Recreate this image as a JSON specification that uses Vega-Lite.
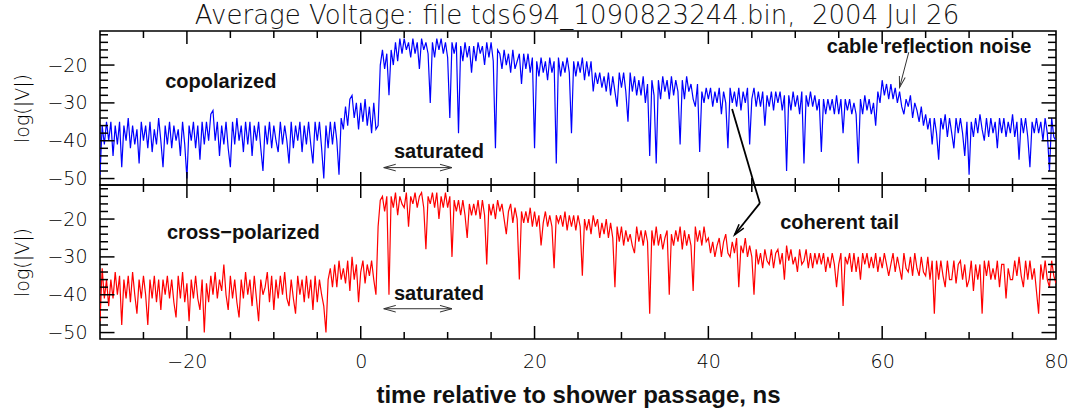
{
  "$schema": "https://vega.github.io/schema/vega-lite/v6.json",
  "background": "white",
  "padding": {"left": 13, "top": 3, "right": 16, "bottom": 2},
  "title": {
    "text": "Average Voltage: file tds694_1090823244.bin,\u00a0 2004 Jul 26",
    "font": "DejaVu Sans", "fontWeight": 200, "fontSize": 26, "color": "#111",
    "anchor": "middle", "offset": 1, "dx": 36
  },
  "spacing": 0,
  "bounds": "flush",
  "config": {
    "view": {"stroke": "black", "strokeWidth": 1.6},
    "axis": {
      "domain": false, "ticks": false, "tickSize": 0, "grid": false,
      "labelFont": "DejaVu Sans", "labelFontWeight": 200, "labelFontSize": 19, "labelColor": "#000",
      "titleFont": "DejaVu Sans", "titleFontWeight": 200, "titleFontSize": 19, "titleColor": "#000"
    },
    "text": {"font": "Liberation Sans", "fontWeight": "bold", "fontSize": 20, "color": "#111"},
    "tick": {"color": "black", "thickness": 1.5, "opacity": 1}
  },
  "datasets": {
    "xmaj": [
      {"t": -20, "v": -11}, {"t": 0, "v": -11}, {"t": 20, "v": -11}, {"t": 40, "v": -11}, {"t": 60, "v": -11},
      {"t": -20, "v": -51.7}, {"t": 0, "v": -51.7}, {"t": 20, "v": -51.7}, {"t": 40, "v": -51.7}, {"t": 60, "v": -51.7}
    ],
    "xmin": [
      {"t": -25, "v": -11}, {"t": -15, "v": -11}, {"t": -10, "v": -11}, {"t": -5, "v": -11},
      {"t": 5, "v": -11}, {"t": 10, "v": -11}, {"t": 15, "v": -11}, {"t": 25, "v": -11},
      {"t": 30, "v": -11}, {"t": 35, "v": -11}, {"t": 45, "v": -11}, {"t": 50, "v": -11},
      {"t": 55, "v": -11}, {"t": 65, "v": -11}, {"t": 70, "v": -11}, {"t": 75, "v": -11},
      {"t": -25, "v": -51.7}, {"t": -15, "v": -51.7}, {"t": -10, "v": -51.7}, {"t": -5, "v": -51.7},
      {"t": 5, "v": -51.7}, {"t": 10, "v": -51.7}, {"t": 15, "v": -51.7}, {"t": 25, "v": -51.7},
      {"t": 30, "v": -51.7}, {"t": 35, "v": -51.7}, {"t": 45, "v": -51.7}, {"t": 50, "v": -51.7},
      {"t": 55, "v": -51.7}, {"t": 65, "v": -51.7}, {"t": 70, "v": -51.7}, {"t": 75, "v": -51.7}
    ],
    "ymaj": [
      {"t": -30, "v": -50}, {"t": -30, "v": -40}, {"t": -30, "v": -30}, {"t": -30, "v": -20},
      {"t": 80, "v": -50}, {"t": 80, "v": -40}, {"t": 80, "v": -30}, {"t": 80, "v": -20}
    ],
    "ymin": [
      {"t": -30, "v": -48}, {"t": -30, "v": -46}, {"t": -30, "v": -44}, {"t": -30, "v": -42},
      {"t": -30, "v": -38}, {"t": -30, "v": -36}, {"t": -30, "v": -34}, {"t": -30, "v": -32},
      {"t": -30, "v": -28}, {"t": -30, "v": -26}, {"t": -30, "v": -24}, {"t": -30, "v": -22},
      {"t": -30, "v": -18}, {"t": -30, "v": -16}, {"t": -30, "v": -14}, {"t": -30, "v": -12},
      {"t": 80, "v": -48}, {"t": 80, "v": -46}, {"t": 80, "v": -44}, {"t": 80, "v": -42},
      {"t": 80, "v": -38}, {"t": 80, "v": -36}, {"t": 80, "v": -34}, {"t": 80, "v": -32},
      {"t": 80, "v": -28}, {"t": 80, "v": -26}, {"t": 80, "v": -24}, {"t": 80, "v": -22},
      {"t": 80, "v": -18}, {"t": 80, "v": -16}, {"t": 80, "v": -14}, {"t": 80, "v": -12}
    ],
    "sig": [
{"t":-30,"a":-49,"b":-47},{"t":-29.75,"a":-36,"b":-33},{"t":-29.5,"a":-41,"b":-41},{"t":-29.25,"a":-35,"b":-36},
{"t":-29,"a":-40,"b":-43},{"t":-28.75,"a":-35,"b":-36},{"t":-28.5,"a":-44,"b":-41},{"t":-28.25,"a":-36,"b":-34},
{"t":-28,"a":-41,"b":-40},{"t":-27.75,"a":-35,"b":-35},{"t":-27.5,"a":-47,"b":-48},{"t":-27.25,"a":-36,"b":-36},
{"t":-27,"a":-40,"b":-41},{"t":-26.75,"a":-34,"b":-35},{"t":-26.5,"a":-42,"b":-42},{"t":-26.25,"a":-36,"b":-34},
{"t":-26,"a":-41,"b":-40},{"t":-25.75,"a":-37,"b":-45},{"t":-25.5,"a":-46,"b":-36},{"t":-25.25,"a":-35,"b":-41},
{"t":-25,"a":-40,"b":-35},{"t":-24.75,"a":-36,"b":-40},{"t":-24.5,"a":-42,"b":-48},{"t":-24.25,"a":-35,"b":-36},
{"t":-24,"a":-43,"b":-41},{"t":-23.75,"a":-37,"b":-35},{"t":-23.5,"a":-41,"b":-42},{"t":-23.25,"a":-34,"b":-36},
{"t":-23,"a":-40,"b":-44},{"t":-22.75,"a":-47,"b":-36},{"t":-22.5,"a":-36,"b":-40},{"t":-22.25,"a":-41,"b":-35},
{"t":-22,"a":-35,"b":-41},{"t":-21.75,"a":-42,"b":-36},{"t":-21.5,"a":-36,"b":-42},{"t":-21.25,"a":-40,"b":-46},
{"t":-21,"a":-37,"b":-35},{"t":-20.75,"a":-44,"b":-41},{"t":-20.5,"a":-35,"b":-34},{"t":-20.25,"a":-41,"b":-42},
{"t":-20,"a":-50,"b":-37},{"t":-19.75,"a":-36,"b":-47},{"t":-19.5,"a":-40,"b":-36},{"t":-19.25,"a":-35,"b":-41},
{"t":-19,"a":-42,"b":-35},{"t":-18.75,"a":-36,"b":-41},{"t":-18.5,"a":-45,"b":-44},{"t":-18.25,"a":-35,"b":-36},
{"t":-18,"a":-41,"b":-50},{"t":-17.75,"a":-35,"b":-37},{"t":-17.5,"a":-40,"b":-42},{"t":-17.25,"a":-33,"b":-35},
{"t":-17,"a":-32,"b":-40},{"t":-16.75,"a":-40,"b":-34},{"t":-16.5,"a":-35,"b":-41},{"t":-16.25,"a":-44,"b":-36},
{"t":-16,"a":-36,"b":-39},{"t":-15.75,"a":-41,"b":-32},{"t":-15.5,"a":-35,"b":-40},{"t":-15.25,"a":-42,"b":-44},
{"t":-15,"a":-47,"b":-35},{"t":-14.75,"a":-35,"b":-41},{"t":-14.5,"a":-41,"b":-36},{"t":-14.25,"a":-34,"b":-42},
{"t":-14,"a":-40,"b":-46},{"t":-13.75,"a":-36,"b":-36},{"t":-13.5,"a":-43,"b":-41},{"t":-13.25,"a":-35,"b":-34},
{"t":-13,"a":-41,"b":-40},{"t":-12.75,"a":-35,"b":-36},{"t":-12.5,"a":-44,"b":-43},{"t":-12.25,"a":-36,"b":-35},
{"t":-12,"a":-40,"b":-41},{"t":-11.75,"a":-35,"b":-47},{"t":-11.5,"a":-42,"b":-36},{"t":-11.25,"a":-48,"b":-40},
{"t":-11,"a":-36,"b":-38},{"t":-10.75,"a":-41,"b":-34},{"t":-10.5,"a":-35,"b":-42},{"t":-10.25,"a":-42,"b":-35},
{"t":-10,"a":-36,"b":-44},{"t":-9.75,"a":-40,"b":-36},{"t":-9.5,"a":-43,"b":-41},{"t":-9.25,"a":-35,"b":-35},
{"t":-9,"a":-41,"b":-40},{"t":-8.75,"a":-36,"b":-34},{"t":-8.5,"a":-40,"b":-41},{"t":-8.25,"a":-46,"b":-43},
{"t":-8,"a":-35,"b":-36},{"t":-7.75,"a":-42,"b":-41},{"t":-7.5,"a":-36,"b":-45},{"t":-7.25,"a":-40,"b":-35},
{"t":-7,"a":-35,"b":-40},{"t":-6.75,"a":-43,"b":-36},{"t":-6.5,"a":-36,"b":-42},{"t":-6.25,"a":-41,"b":-35},
{"t":-6,"a":-35,"b":-41},{"t":-5.75,"a":-41,"b":-36},{"t":-5.5,"a":-46,"b":-44},{"t":-5.25,"a":-35,"b":-35},
{"t":-5,"a":-40,"b":-42},{"t":-4.75,"a":-35,"b":-36},{"t":-4.5,"a":-42,"b":-40},{"t":-4.25,"a":-50,"b":-43},
{"t":-4,"a":-36,"b":-50},{"t":-3.75,"a":-42,"b":-36},{"t":-3.5,"a":-35,"b":-33},{"t":-3.25,"a":-41,"b":-38},
{"t":-3,"a":-35,"b":-32},{"t":-2.75,"a":-40,"b":-38},{"t":-2.5,"a":-49,"b":-31},{"t":-2.25,"a":-34,"b":-36},
{"t":-2,"a":-37,"b":-33},{"t":-1.75,"a":-31,"b":-37},{"t":-1.5,"a":-36,"b":-31},{"t":-1.25,"a":-29,"b":-39},
{"t":-1,"a":-28,"b":-30},{"t":-0.75,"a":-34,"b":-36},{"t":-0.5,"a":-30,"b":-32},{"t":-0.25,"a":-37,"b":-42},
{"t":0,"a":-30,"b":-34},{"t":0.25,"a":-35,"b":-31},{"t":0.5,"a":-29,"b":-37},{"t":0.75,"a":-36,"b":-32},
{"t":1,"a":-31,"b":-35},{"t":1.25,"a":-38,"b":-31},{"t":1.5,"a":-30,"b":-36},{"t":1.75,"a":-37,"b":-40},
{"t":2,"a":-36,"b":-22},{"t":2.25,"a":-20,"b":-15},{"t":2.5,"a":-16,"b":-14},{"t":2.75,"a":-21,"b":-18},
{"t":3,"a":-17,"b":-14},{"t":3.25,"a":-28,"b":-40},{"t":3.5,"a":-16,"b":-14},{"t":3.75,"a":-20,"b":-17},
{"t":4,"a":-14,"b":-13},{"t":4.25,"a":-19,"b":-19},{"t":4.5,"a":-13,"b":-14},{"t":4.75,"a":-17,"b":-16},
{"t":5,"a":-13,"b":-17},{"t":5.25,"a":-16,"b":-13},{"t":5.5,"a":-14,"b":-22},{"t":5.75,"a":-18,"b":-14},
{"t":6,"a":-13,"b":-16},{"t":6.25,"a":-17,"b":-13},{"t":6.5,"a":-14,"b":-17},{"t":6.75,"a":-21,"b":-14},
{"t":7,"a":-13,"b":-13},{"t":7.25,"a":-16,"b":-17},{"t":7.5,"a":-14,"b":-28},{"t":7.75,"a":-17,"b":-14},
{"t":8,"a":-30,"b":-16},{"t":8.25,"a":-14,"b":-13},{"t":8.5,"a":-18,"b":-17},{"t":8.75,"a":-13,"b":-13},
{"t":9,"a":-16,"b":-20},{"t":9.25,"a":-13,"b":-14},{"t":9.5,"a":-17,"b":-17},{"t":9.75,"a":-14,"b":-13},
{"t":10,"a":-18,"b":-17},{"t":10.25,"a":-34,"b":-14},{"t":10.5,"a":-14,"b":-30},{"t":10.75,"a":-17,"b":-15},
{"t":11,"a":-14,"b":-18},{"t":11.25,"a":-38,"b":-15},{"t":11.5,"a":-15,"b":-19},{"t":11.75,"a":-19,"b":-15},
{"t":12,"a":-14,"b":-19},{"t":12.25,"a":-18,"b":-25},{"t":12.5,"a":-15,"b":-16},{"t":12.75,"a":-22,"b":-19},
{"t":13,"a":-15,"b":-16},{"t":13.25,"a":-19,"b":-19},{"t":13.5,"a":-14,"b":-15},{"t":13.75,"a":-17,"b":-20},
{"t":14,"a":-15,"b":-15},{"t":14.25,"a":-20,"b":-19},{"t":14.5,"a":-14,"b":-32},{"t":14.75,"a":-18,"b":-16},
{"t":15,"a":-14,"b":-19},{"t":15.25,"a":-19,"b":-16},{"t":15.5,"a":-42,"b":-20},{"t":15.75,"a":-16,"b":-15},
{"t":16,"a":-17,"b":-18},{"t":16.25,"a":-21,"b":-16},{"t":16.5,"a":-16,"b":-20},{"t":16.75,"a":-20,"b":-24},
{"t":17,"a":-17,"b":-18},{"t":17.25,"a":-22,"b":-16},{"t":17.5,"a":-16,"b":-21},{"t":17.75,"a":-21,"b":-17},
{"t":18,"a":-19,"b":-20},{"t":18.25,"a":-17,"b":-36},{"t":18.5,"a":-25,"b":-18},{"t":18.75,"a":-17,"b":-21},
{"t":19,"a":-21,"b":-18},{"t":19.25,"a":-17,"b":-21},{"t":19.5,"a":-22,"b":-17},{"t":19.75,"a":-18,"b":-22},
{"t":20,"a":-42,"b":-18},{"t":20.25,"a":-19,"b":-22},{"t":20.5,"a":-23,"b":-19},{"t":20.75,"a":-18,"b":-27},
{"t":21,"a":-22,"b":-21},{"t":21.25,"a":-19,"b":-18},{"t":21.5,"a":-24,"b":-22},{"t":21.75,"a":-18,"b":-19},
{"t":22,"a":-22,"b":-22},{"t":22.25,"a":-19,"b":-33},{"t":22.5,"a":-46,"b":-19},{"t":22.75,"a":-18,"b":-21},
{"t":23,"a":-23,"b":-19},{"t":23.25,"a":-19,"b":-22},{"t":23.5,"a":-22,"b":-18},{"t":23.75,"a":-18,"b":-23},
{"t":24,"a":-22,"b":-19},{"t":24.25,"a":-38,"b":-22},{"t":24.5,"a":-19,"b":-19},{"t":24.75,"a":-23,"b":-23},
{"t":25,"a":-19,"b":-19},{"t":25.25,"a":-22,"b":-22},{"t":25.5,"a":-18,"b":-35},{"t":25.75,"a":-24,"b":-20},
{"t":26,"a":-19,"b":-23},{"t":26.25,"a":-23,"b":-20},{"t":26.5,"a":-19,"b":-24},{"t":26.75,"a":-27,"b":-19},
{"t":27,"a":-22,"b":-22},{"t":27.25,"a":-25,"b":-20},{"t":27.5,"a":-22,"b":-25},{"t":27.75,"a":-26,"b":-21},
{"t":28,"a":-23,"b":-24},{"t":28.25,"a":-27,"b":-20},{"t":28.5,"a":-22,"b":-25},{"t":28.75,"a":-28,"b":-21},
{"t":29,"a":-23,"b":-25},{"t":29.25,"a":-27,"b":-38},{"t":29.5,"a":-31,"b":-22},{"t":29.75,"a":-22,"b":-26},
{"t":30,"a":-26,"b":-22},{"t":30.25,"a":-22,"b":-27},{"t":30.5,"a":-27,"b":-23},{"t":30.75,"a":-35,"b":-26},
{"t":31,"a":-22,"b":-24},{"t":31.25,"a":-27,"b":-27},{"t":31.5,"a":-23,"b":-29},{"t":31.75,"a":-28,"b":-22},
{"t":32,"a":-24,"b":-26},{"t":32.25,"a":-28,"b":-23},{"t":32.5,"a":-23,"b":-27},{"t":32.75,"a":-30,"b":-23},
{"t":33,"a":-25,"b":-26},{"t":33.25,"a":-44,"b":-45},{"t":33.5,"a":-24,"b":-23},{"t":33.75,"a":-28,"b":-27},
{"t":34,"a":-46,"b":-22},{"t":34.25,"a":-24,"b":-27},{"t":34.5,"a":-29,"b":-24},{"t":34.75,"a":-23,"b":-28},
{"t":35,"a":-27,"b":-25},{"t":35.25,"a":-24,"b":-23},{"t":35.5,"a":-29,"b":-40},{"t":35.75,"a":-23,"b":-24},
{"t":36,"a":-28,"b":-27},{"t":36.25,"a":-24,"b":-23},{"t":36.5,"a":-27,"b":-26},{"t":36.75,"a":-41,"b":-22},
{"t":37,"a":-24,"b":-28},{"t":37.25,"a":-29,"b":-23},{"t":37.5,"a":-23,"b":-27},{"t":37.75,"a":-27,"b":-24},
{"t":38,"a":-25,"b":-27},{"t":38.25,"a":-29,"b":-39},{"t":38.5,"a":-31,"b":-22},{"t":38.75,"a":-25,"b":-26},
{"t":39,"a":-43,"b":-23},{"t":39.25,"a":-27,"b":-27},{"t":39.5,"a":-30,"b":-22},{"t":39.75,"a":-26,"b":-26},
{"t":40,"a":-29,"b":-25},{"t":40.25,"a":-26,"b":-29},{"t":40.5,"a":-31,"b":-26},{"t":40.75,"a":-27,"b":-30},
{"t":41,"a":-30,"b":-27},{"t":41.25,"a":-26,"b":-25},{"t":41.5,"a":-33,"b":-30},{"t":41.75,"a":-27,"b":-26},
{"t":42,"a":-30,"b":-24},{"t":42.25,"a":-42,"b":-29},{"t":42.5,"a":-26,"b":-30},{"t":42.75,"a":-30,"b":-26},
{"t":43,"a":-27,"b":-29},{"t":43.25,"a":-31,"b":-25},{"t":43.5,"a":-26,"b":-38},{"t":43.75,"a":-32,"b":-27},
{"t":44,"a":-27,"b":-29},{"t":44.25,"a":-30,"b":-25},{"t":44.5,"a":-26,"b":-30},{"t":44.75,"a":-41,"b":-27},
{"t":45,"a":-29,"b":-30},{"t":45.25,"a":-26,"b":-40},{"t":45.5,"a":-31,"b":-28},{"t":45.75,"a":-27,"b":-32},
{"t":46,"a":-31,"b":-29},{"t":46.25,"a":-27,"b":-33},{"t":46.5,"a":-36,"b":-28},{"t":46.75,"a":-28,"b":-31},
{"t":47,"a":-31,"b":-32},{"t":47.25,"a":-27,"b":-28},{"t":47.5,"a":-32,"b":-33},{"t":47.75,"a":-27,"b":-29},
{"t":48,"a":-30,"b":-28},{"t":48.25,"a":-27,"b":-32},{"t":48.5,"a":-32,"b":-29},{"t":48.75,"a":-28,"b":-36},
{"t":49,"a":-48,"b":-27},{"t":49.25,"a":-28,"b":-31},{"t":49.5,"a":-32,"b":-28},{"t":49.75,"a":-27,"b":-32},
{"t":50,"a":-31,"b":-30},{"t":50.25,"a":-28,"b":-34},{"t":50.5,"a":-33,"b":-28},{"t":50.75,"a":-27,"b":-32},
{"t":51,"a":-46,"b":-31},{"t":51.25,"a":-28,"b":-28},{"t":51.5,"a":-31,"b":-33},{"t":51.75,"a":-27,"b":-29},
{"t":52,"a":-31,"b":-33},{"t":52.25,"a":-28,"b":-29},{"t":52.5,"a":-32,"b":-32},{"t":52.75,"a":-29,"b":-29},
{"t":53,"a":-43,"b":-32},{"t":53.25,"a":-29,"b":-29},{"t":53.5,"a":-33,"b":-34},{"t":53.75,"a":-29,"b":-30},
{"t":54,"a":-32,"b":-33},{"t":54.25,"a":-29,"b":-29},{"t":54.5,"a":-33,"b":-32},{"t":54.75,"a":-28,"b":-38},
{"t":55,"a":-33,"b":-32},{"t":55.25,"a":-29,"b":-29},{"t":55.5,"a":-38,"b":-43},{"t":55.75,"a":-29,"b":-30},
{"t":56,"a":-32,"b":-32},{"t":56.25,"a":-29,"b":-29},{"t":56.5,"a":-33,"b":-34},{"t":56.75,"a":-30,"b":-29},
{"t":57,"a":-33,"b":-34},{"t":57.25,"a":-46,"b":-30},{"t":57.5,"a":-29,"b":-36},{"t":57.75,"a":-33,"b":-29},
{"t":58,"a":-28,"b":-32},{"t":58.25,"a":-32,"b":-29},{"t":58.5,"a":-29,"b":-33},{"t":58.75,"a":-33,"b":-30},
{"t":59,"a":-30,"b":-33},{"t":59.25,"a":-36,"b":-29},{"t":59.5,"a":-27,"b":-34},{"t":59.75,"a":-30,"b":-30},
{"t":60,"a":-24,"b":-33},{"t":60.25,"a":-28,"b":-29},{"t":60.5,"a":-25,"b":-32},{"t":60.75,"a":-29,"b":-35},
{"t":61,"a":-25,"b":-32},{"t":61.25,"a":-29,"b":-29},{"t":61.5,"a":-26,"b":-34},{"t":61.75,"a":-30,"b":-30},
{"t":62,"a":-27,"b":-33},{"t":62.25,"a":-31,"b":-36},{"t":62.5,"a":-33,"b":-29},{"t":62.75,"a":-29,"b":-33},
{"t":63,"a":-31,"b":-34},{"t":63.25,"a":-28,"b":-30},{"t":63.5,"a":-34,"b":-35},{"t":63.75,"a":-30,"b":-29},
{"t":64,"a":-32,"b":-33},{"t":64.25,"a":-35,"b":-35},{"t":64.5,"a":-31,"b":-30},{"t":64.75,"a":-36,"b":-34},
{"t":65,"a":-33,"b":-35},{"t":65.25,"a":-37,"b":-30},{"t":65.5,"a":-34,"b":-36},{"t":65.75,"a":-41,"b":-31},
{"t":66,"a":-34,"b":-45},{"t":66.25,"a":-38,"b":-31},{"t":66.5,"a":-45,"b":-36},{"t":66.75,"a":-34,"b":-31},
{"t":67,"a":-37,"b":-35},{"t":67.25,"a":-33,"b":-38},{"t":67.5,"a":-39,"b":-31},{"t":67.75,"a":-34,"b":-36},
{"t":68,"a":-38,"b":-36},{"t":68.25,"a":-42,"b":-31},{"t":68.5,"a":-34,"b":-37},{"t":68.75,"a":-38,"b":-32},
{"t":69,"a":-34,"b":-31},{"t":69.25,"a":-38,"b":-36},{"t":69.5,"a":-44,"b":-32},{"t":69.75,"a":-35,"b":-38},
{"t":70,"a":-49,"b":-36},{"t":70.25,"a":-35,"b":-31},{"t":70.5,"a":-39,"b":-39},{"t":70.75,"a":-34,"b":-32},
{"t":71,"a":-38,"b":-36},{"t":71.25,"a":-33,"b":-32},{"t":71.5,"a":-37,"b":-45},{"t":71.75,"a":-40,"b":-31},
{"t":72,"a":-34,"b":-35},{"t":72.25,"a":-39,"b":-31},{"t":72.5,"a":-34,"b":-36},{"t":72.75,"a":-38,"b":-33},
{"t":73,"a":-35,"b":-36},{"t":73.25,"a":-42,"b":-31},{"t":73.5,"a":-34,"b":-38},{"t":73.75,"a":-38,"b":-32},
{"t":74,"a":-34,"b":-32},{"t":74.25,"a":-39,"b":-41},{"t":74.5,"a":-35,"b":-33},{"t":74.75,"a":-38,"b":-36},
{"t":75,"a":-33,"b":-36},{"t":75.25,"a":-39,"b":-31},{"t":75.5,"a":-35,"b":-35},{"t":75.75,"a":-45,"b":-30},
{"t":76,"a":-34,"b":-35},{"t":76.25,"a":-38,"b":-38},{"t":76.5,"a":-34,"b":-31},{"t":76.75,"a":-39,"b":-36},
{"t":77,"a":-47,"b":-31},{"t":77.25,"a":-35,"b":-36},{"t":77.5,"a":-38,"b":-33},{"t":77.75,"a":-34,"b":-39},
{"t":78,"a":-38,"b":-45},{"t":78.25,"a":-35,"b":-32},{"t":78.5,"a":-40,"b":-36},{"t":78.75,"a":-34,"b":-31},
{"t":79,"a":-38,"b":-36},{"t":79.25,"a":-48,"b":-38},{"t":79.5,"a":-34,"b":-31},{"t":79.75,"a":-39,"b":-35},
{"t":80,"a":-40,"b":-37}
    ]
  },
  "vconcat": [
    {
      "width": 956,
      "height": 154,
      "layer": [
        {
          "data": {"name": "sig"},
          "mark": {"type": "line", "color": "#0000ff", "strokeWidth": 1.2, "clip": true},
          "encoding": {
            "x": {
              "field": "t", "type": "quantitative",
              "scale": {"domain": [-30, 80], "nice": false, "zero": false},
              "axis": {"orient": "bottom", "title": null, "labels": false, "values": [-20, 0, 20, 40, 60]}
            },
            "y": {
              "field": "a", "type": "quantitative",
              "scale": {"domain": [-51.7, -11], "nice": false, "zero": false},
              "axis": {
                "orient": "left", "title": "log(|V|)", "titlePadding": 14,
                "values": [-50, -40, -30, -20], "labelPadding": 13
              }
            }
          }
        },
        {
          "data": {"name": "xmaj"},
          "mark": {"type": "tick", "orient": "vertical", "size": 26, "clip": true},
          "encoding": {
            "x": {"field": "t", "type": "quantitative", "axis": null},
            "y": {"field": "v", "type": "quantitative", "axis": null}
          }
        },
        {
          "data": {"name": "xmin"},
          "mark": {"type": "tick", "orient": "vertical", "size": 14, "clip": true},
          "encoding": {
            "x": {"field": "t", "type": "quantitative", "axis": null},
            "y": {"field": "v", "type": "quantitative", "axis": null}
          }
        },
        {
          "data": {"name": "ymaj"},
          "mark": {"type": "tick", "orient": "horizontal", "size": 29, "clip": true},
          "encoding": {
            "x": {"field": "t", "type": "quantitative", "axis": null},
            "y": {"field": "v", "type": "quantitative", "axis": null}
          }
        },
        {
          "data": {"name": "ymin"},
          "mark": {"type": "tick", "orient": "horizontal", "size": 16, "clip": true},
          "encoding": {
            "x": {"field": "t", "type": "quantitative", "axis": null},
            "y": {"field": "v", "type": "quantitative", "axis": null}
          }
        },
        {
          "data": {"values": [
            {"t": -16.1, "v": -24.6, "txt": "copolarized"},
            {"t": 9.0, "v": -43.0, "txt": "saturated"},
            {"t": 65.4, "v": -15.3, "txt": "cable reflection noise"}
          ]},
          "mark": {"type": "text", "align": "center", "baseline": "middle"},
          "encoding": {
            "x": {"field": "t", "type": "quantitative", "axis": null},
            "y": {"field": "v", "type": "quantitative", "axis": null},
            "text": {"field": "txt"}
          }
        },
        {
          "data": {"values": [{"t": 42.73, "v": -31.6, "t2": 45.3, "v2": -51.7}]},
          "mark": {"type": "rule", "color": "black", "strokeWidth": 1.8},
          "encoding": {
            "x": {"field": "t", "type": "quantitative", "axis": null},
            "y": {"field": "v", "type": "quantitative", "axis": null},
            "x2": {"field": "t2"}, "y2": {"field": "v2"}
          }
        },
        {
          "data": {"values": [
            {"t": 63.06, "v": -16.6, "t2": 62.0, "v2": -25.9},
            {"t": 2.65, "v": -47.1, "t2": 10.5, "v2": -47.1}
          ]},
          "mark": {"type": "rule", "color": "#333", "strokeWidth": 1},
          "encoding": {
            "x": {"field": "t", "type": "quantitative", "axis": null},
            "y": {"field": "v", "type": "quantitative", "axis": null},
            "x2": {"field": "t2"}, "y2": {"field": "v2"}
          }
        },
        {
          "data": {"values": [{"t": 2.65, "v": -47.1}]},
          "mark": {"type": "point", "shape": "M2,-0.55L0,0L2,0.55", "size": 144, "filled": false, "color": "#333", "strokeWidth": 1, "opacity": 1, "angle": 0},
          "encoding": {
            "x": {"field": "t", "type": "quantitative", "axis": null},
            "y": {"field": "v", "type": "quantitative", "axis": null}
          }
        },
        {
          "data": {"values": [{"t": 10.5, "v": -47.1}]},
          "mark": {"type": "point", "shape": "M2,-0.55L0,0L2,0.55", "size": 144, "filled": false, "color": "#333", "strokeWidth": 1, "opacity": 1, "angle": 180},
          "encoding": {
            "x": {"field": "t", "type": "quantitative", "axis": null},
            "y": {"field": "v", "type": "quantitative", "axis": null}
          }
        },
        {
          "data": {"values": [{"t": 62.0, "v": -25.9}]},
          "mark": {"type": "point", "shape": "M2,-0.55L0,0L2,0.55", "size": 120, "filled": false, "color": "#333", "strokeWidth": 1, "opacity": 1, "angle": -75.6},
          "encoding": {
            "x": {"field": "t", "type": "quantitative", "axis": null},
            "y": {"field": "v", "type": "quantitative", "axis": null}
          }
        }
      ],
      "resolve": {"axis": {"x": "independent", "y": "independent"}}
    },
    {
      "width": 956,
      "height": 154,
      "layer": [
        {
          "data": {"name": "sig"},
          "mark": {"type": "line", "color": "#ff0000", "strokeWidth": 1.2, "clip": true},
          "encoding": {
            "x": {
              "field": "t", "type": "quantitative",
              "scale": {"domain": [-30, 80], "nice": false, "zero": false},
              "axis": {
                "orient": "bottom", "title": "time relative to shower passage, ns",
                "titleFont": "Liberation Sans", "titleFontWeight": "bold", "titleFontSize": 24, "titleColor": "#111",
                "titlePadding": 12,
                "values": [-20, 0, 20, 40, 60, 80],
                "labelPadding": 13, "labelFlush": false
              }
            },
            "y": {
              "field": "b", "type": "quantitative",
              "scale": {"domain": [-51.7, -11], "nice": false, "zero": false},
              "axis": {
                "orient": "left", "title": "log(|V|)", "titlePadding": 14,
                "values": [-50, -40, -30, -20], "labelPadding": 13
              }
            }
          }
        },
        {
          "data": {"name": "xmaj"},
          "mark": {"type": "tick", "orient": "vertical", "size": 26, "clip": true},
          "encoding": {
            "x": {"field": "t", "type": "quantitative", "axis": null},
            "y": {"field": "v", "type": "quantitative", "axis": null}
          }
        },
        {
          "data": {"name": "xmin"},
          "mark": {"type": "tick", "orient": "vertical", "size": 14, "clip": true},
          "encoding": {
            "x": {"field": "t", "type": "quantitative", "axis": null},
            "y": {"field": "v", "type": "quantitative", "axis": null}
          }
        },
        {
          "data": {"name": "ymaj"},
          "mark": {"type": "tick", "orient": "horizontal", "size": 29, "clip": true},
          "encoding": {
            "x": {"field": "t", "type": "quantitative", "axis": null},
            "y": {"field": "v", "type": "quantitative", "axis": null}
          }
        },
        {
          "data": {"name": "ymin"},
          "mark": {"type": "tick", "orient": "horizontal", "size": 16, "clip": true},
          "encoding": {
            "x": {"field": "t", "type": "quantitative", "axis": null},
            "y": {"field": "v", "type": "quantitative", "axis": null}
          }
        },
        {
          "data": {"values": [
            {"t": -13.5, "v": -23.7, "txt": "cross\u2212polarized"},
            {"t": 9.0, "v": -39.7, "txt": "saturated"},
            {"t": 55.1, "v": -21.1, "txt": "coherent tail"}
          ]},
          "mark": {"type": "text", "align": "center", "baseline": "middle"},
          "encoding": {
            "x": {"field": "t", "type": "quantitative", "axis": null},
            "y": {"field": "v", "type": "quantitative", "axis": null},
            "text": {"field": "txt"}
          }
        },
        {
          "data": {"values": [
            {"t": 45.3, "v": -11.0, "t2": 45.93, "v2": -15.8},
            {"t": 45.93, "v": -15.8, "t2": 43.02, "v2": -24.15}
          ]},
          "mark": {"type": "rule", "color": "black", "strokeWidth": 1.8},
          "encoding": {
            "x": {"field": "t", "type": "quantitative", "axis": null},
            "y": {"field": "v", "type": "quantitative", "axis": null},
            "x2": {"field": "t2"}, "y2": {"field": "v2"}
          }
        },
        {
          "data": {"values": [{"t": 2.65, "v": -43.7, "t2": 10.5, "v2": -43.7}]},
          "mark": {"type": "rule", "color": "#333", "strokeWidth": 1},
          "encoding": {
            "x": {"field": "t", "type": "quantitative", "axis": null},
            "y": {"field": "v", "type": "quantitative", "axis": null},
            "x2": {"field": "t2"}, "y2": {"field": "v2"}
          }
        },
        {
          "data": {"values": [{"t": 2.65, "v": -43.7}]},
          "mark": {"type": "point", "shape": "M2,-0.55L0,0L2,0.55", "size": 144, "filled": false, "color": "#333", "strokeWidth": 1, "opacity": 1, "angle": 0},
          "encoding": {
            "x": {"field": "t", "type": "quantitative", "axis": null},
            "y": {"field": "v", "type": "quantitative", "axis": null}
          }
        },
        {
          "data": {"values": [{"t": 10.5, "v": -43.7}]},
          "mark": {"type": "point", "shape": "M2,-0.55L0,0L2,0.55", "size": 144, "filled": false, "color": "#333", "strokeWidth": 1, "opacity": 1, "angle": 180},
          "encoding": {
            "x": {"field": "t", "type": "quantitative", "axis": null},
            "y": {"field": "v", "type": "quantitative", "axis": null}
          }
        },
        {
          "data": {"values": [{"t": 43.02, "v": -24.15}]},
          "mark": {"type": "point", "shape": "M2,-0.55L0,0L2,0.55", "size": 120, "filled": false, "color": "black", "strokeWidth": 1.5, "opacity": 1, "angle": -51.4},
          "encoding": {
            "x": {"field": "t", "type": "quantitative", "axis": null},
            "y": {"field": "v", "type": "quantitative", "axis": null}
          }
        }
      ],
      "resolve": {"axis": {"x": "independent", "y": "independent"}}
    }
  ]
}
